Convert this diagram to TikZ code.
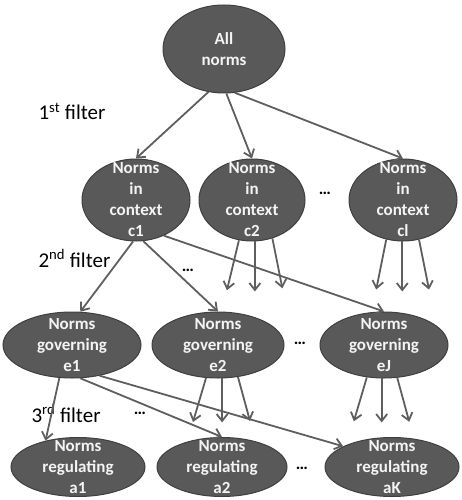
\documentclass[tikz,border=0pt]{standalone}
\usepackage{fontspec}
\setmainfont{Carlito}
\usetikzlibrary{shapes.geometric,arrows.meta}
\definecolor{normfill}{HTML}{595959}
\definecolor{normedge}{HTML}{3F3F3F}
\definecolor{normtext}{HTML}{F4F4F4}
\definecolor{linkgray}{HTML}{5E5E5E}
\begin{document}
\begin{tikzpicture}[x=1pt, y=-1pt,
  norm/.style={ellipse, draw=normedge, fill=normfill, line width=1pt,
    inner sep=-25pt, text=normtext, align=center,
    font=\fontsize{17}{21}\selectfont\bfseries},
  link/.style={draw=linkgray, line width=1.8pt,
    -{Straight Barb[length=7pt,width=11pt]}},
  filter/.style={anchor=base west, font=\fontsize{21}{24}\selectfont},
  gap/.style={font=\fontsize{17}{18}\selectfont\bfseries}]
  \useasboundingbox (0,0) rectangle (462,500);

  % levels of norms
  \node[norm, minimum width=122pt, minimum height=88pt] (all) at (224,49) {All\\norms};
  \node[norm, minimum width=108pt, minimum height=82pt] (c1) at (136,200) {Norms\\in\\context\\c1};
  \node[norm, minimum width=106pt, minimum height=82pt] (c2) at (252,200) {Norms\\in\\context\\c2};
  \node[norm, minimum width=108pt, minimum height=82pt] (cl) at (403,200) {Norms\\in\\context\\cl};
  \node[norm, minimum width=138pt, minimum height=66pt] (e1) at (72,345) {Norms\\governing\\e1};
  \node[norm, minimum width=132pt, minimum height=66pt] (e2) at (218,345) {Norms\\governing\\e2};
  \node[norm, minimum width=128pt, minimum height=66pt] (eJ) at (384,345) {Norms\\governing\\eJ};
  \node[norm, minimum width=134pt, minimum height=59pt] (a1) at (78,467) {Norms\\regulating\\a1};
  \node[norm, minimum width=130pt, minimum height=59pt] (a2) at (222,467) {Norms\\regulating\\a2};
  \node[norm, minimum width=134pt, minimum height=59pt] (aK) at (392,467) {Norms\\regulating\\aK};

  % filters and gaps
  \node[filter] (f1) at (35,120) {1\textsuperscript{st} filter};
  \node[filter] (f2) at (35,267) {2\textsuperscript{nd} filter};
  \node[filter] (f3) at (28,422) {3\textsuperscript{rd} filter};
  \node[gap] (g1) at (325,193) {\dots};
  \node[gap] (g2) at (188,270) {\dots};
  \node[gap] (g3) at (300,343) {\dots};
  \node[gap] (g4) at (140,413) {\dots};
  \node[gap] (g5) at (302,468) {\dots};

  % 1st filter
  \draw[link] (all.250) -- (c1.north);
  \draw[link] (all.273) -- (c2.north);
  \draw[link] (all.284) -- (cl.north);
  % 2nd filter
  \draw[link] (c1.266) -- (e1.76);
  \draw[link] (c1.280) -- (e2.north);
  \draw[link] (c1.308) -- (eJ.north);
  \foreach \a/\dx in {252/-12, 274/0, 298/10}
    \draw[link] (c2.\a) -- ++(\dx,50);
  \foreach \a/\dx in {247/-10, 269/0, 292/10}
    \draw[link] (cl.\a) -- ++(\dx,50);
  % 3rd filter
  \draw[link] (e1.249) -- (a1.141);
  \draw[link] (e1.284) -- (a2.north);
  \draw[link] (e1.312) -- (aK.157);
  \foreach \a/\dx in {250/-13, 277/0, 302/12}
    \draw[link] (e2.\a) -- ++(\dx,44);
  \foreach \a/\dx in {242/-13, 266/0, 292/12}
    \draw[link] (eJ.\a) -- ++(\dx,44);
\end{tikzpicture}
\end{document}
